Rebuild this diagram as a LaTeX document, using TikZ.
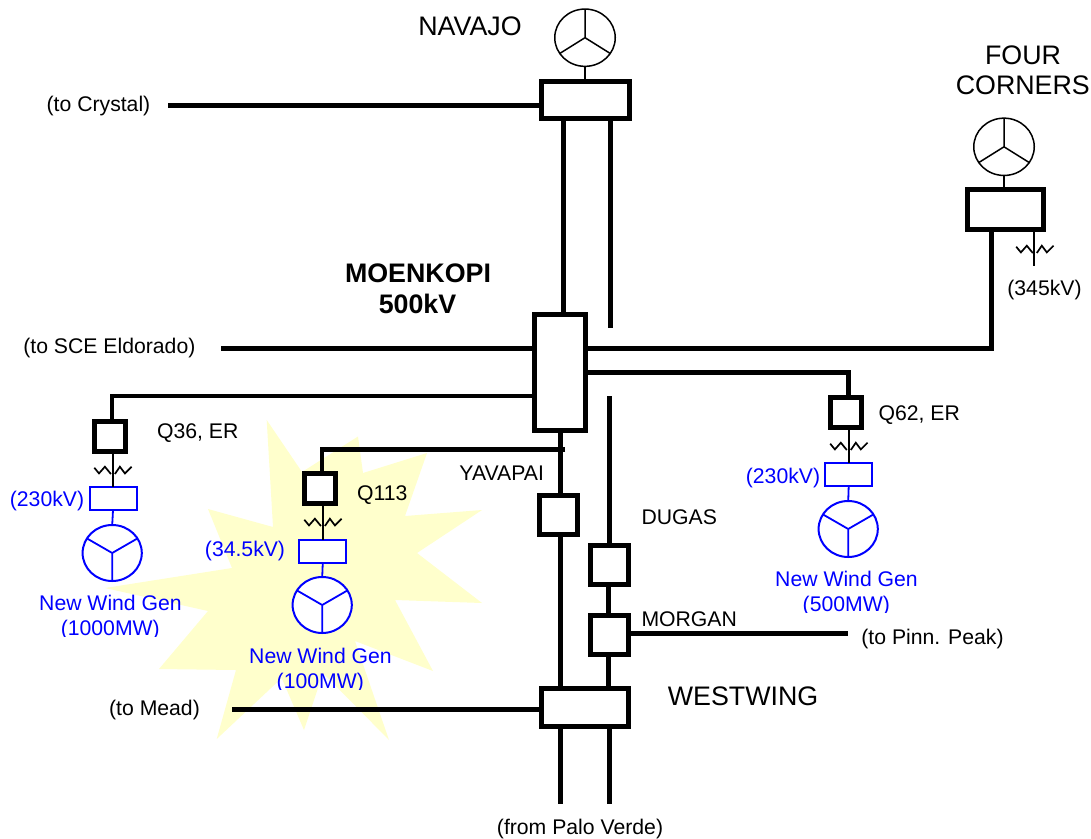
\documentclass[tikz,border=0pt]{standalone}
\usepackage{fontspec}
\setmainfont{Liberation Sans}
\usetikzlibrary{calc,shapes.geometric}
\definecolor{starfill}{HTML}{FFFFCC}
\definecolor{genblue}{HTML}{0000FF}
\newcommand{\smallfont}{\fontsize{21.2}{25}\selectfont}
\newcommand{\bigfont}{\fontsize{26.8}{30}\selectfont}
\tikzset{
  x=1pt,y=-1pt,
  every node/.style={inner sep=0pt,outer sep=0pt},
  heavy/.style={line width=5pt,black},
  medium/.style={line width=4.3pt,black},
  thin wire/.style={line width=1.6pt,black},
  blue wire/.style={line width=1.8pt,genblue},
  bus/.style={draw=black,line width=5pt,fill=white,rectangle,minimum width=#1},
  xbox/.style={bus=31pt,minimum height=30pt},
  bluebox/.style={draw=genblue,line width=2pt,fill=white,rectangle,minimum width=47pt,minimum height=23pt},
  blackgen/.style={draw=black,line width=1.5pt,fill=white,ellipse,minimum width=60.5pt,minimum height=57.3pt},
  bluegen/.style={draw=genblue,line width=2pt,fill=white,ellipse,minimum width=59.2pt,minimum height=56pt},
  lab/.style={anchor=base,font=\smallfont,text=black},
  bluelab/.style={anchor=base,font=\smallfont,text=genblue},
  biglab/.style={anchor=base,font=\bigfont,text=black},
  zz/.style={line width=1.7pt,black,line join=miter},
}
\newcommand{\spokesdown}[1]{\draw[blue wire] (#1.center) -- (#1.south) (#1.center) -- (#1.30) (#1.center) -- (#1.150);}
\newcommand{\spokesup}[1]{\draw[line width=1.5pt,black] (#1.center) -- (#1.north) (#1.center) -- (#1.212) (#1.center) -- (#1.328);}
\newcommand{\zigzag}[1]{\draw[zz] ($(#1)+(-18.3,1)$) -- ++(4.7,5.7) -- ++(5.9,-6.7) -- ++(6,7.3) ($(#1)+(2.3,7.3)$) -- ++(5,-7.3) -- ++(5,6.7) -- ++(6.7,-6.7);}
\begin{document}
\begin{tikzpicture}
\useasboundingbox (0,0) rectangle (1091,838);
\fill[white] (0,0) rectangle (1091,838);
% star burst
\fill[starfill] (266.7,420) -- (302,472) -- (358,436.5) -- (363,473) -- (427,453) -- (405,516) -- (482,510)
  -- (417,553) -- (482,603) -- (395,600) -- (433,671) -- (355,641) -- (389,740) -- (323,673) -- (304,730)
  -- (281.7,678) -- (216.7,739) -- (236,670) -- (159,669) -- (208,611) -- (105,588) -- (232,568)
  -- (208,509) -- (273,527) -- cycle;

% free ends and bends
\coordinate (crystalEnd) at (168,105.7);
\coordinate (sceEnd) at (221,348.7);
\coordinate (q36Turn) at (112.3,396);
\coordinate (q113Turn) at (322.3,449.5);
\coordinate (q113End) at (565,449.5);
\coordinate (q62Turn) at (848.5,372);
\coordinate (fcTurn) at (991,348.5);
\coordinate (navRightEnd) at (610,328);
\coordinate (dugasTop) at (609.7,396);
\coordinate (meadEnd) at (232.3,709.3);
\coordinate (pinnEnd) at (848.3,633.3);
\coordinate (paloL) at (560.3,804.3);
\coordinate (paloR) at (609.7,804.3);
\coordinate (fcTap) at (1034,266);
\coordinate (navL) at (563.5,200);
\coordinate (yavX) at (560,500);
\coordinate (morX) at (608.7,600);

% boxes
\node[bus=87.5pt,minimum height=37.5pt] (navajo) at (585.3,100) {};
\node[bus=51pt,minimum height=116pt] (moenkopi) at (560,372.5) {};
\node[bus=75.5pt,minimum height=39.5pt] (fourc) at (1005.3,209.5) {};
\node[bus=87.5pt,minimum height=38pt] (westwing) at (585,707.3) {};
\node[bus=38pt,minimum height=39.5pt] (yavapai) at (558,514.8) {};
\node[bus=38pt,minimum height=39.5pt] (dugas) at (609.6,565) {};
\node[bus=38pt,minimum height=39.5pt] (morgan) at (609.6,634.8) {};
\node[xbox] (q36) at (110.3,436.7) {};
\node[xbox] (q113) at (320.3,488.8) {};
\node[xbox] (q62) at (846.2,412.8) {};
\node[bluebox] (t36) at (113,498.9) {};
\node[bluebox] (t113) at (322.8,551) {};
\node[bluebox] (t62) at (848.7,474.8) {};
\node[blackgen] (gnav) at (585,37.7) {};
\node[blackgen] (gfc) at (1004,146.8) {};
\node[bluegen] (g36) at (112.2,553) {};
\node[bluegen] (g113) at (322.2,605) {};
\node[bluegen] (g62) at (848.2,529) {};
\spokesup{gnav}
\spokesup{gfc}
\spokesdown{g36}
\spokesdown{g113}
\spokesdown{g62}

% connectors
\draw[heavy] (crystalEnd) -- (crystalEnd -| navajo.west);
\draw[heavy] (sceEnd) -- (sceEnd -| moenkopi.west);
\draw[medium] (moenkopi.west |- q36Turn) -- (q36Turn) -- (q36Turn |- q36.north);
\draw[medium] (q113End) -- (q113Turn) -- (q113Turn |- q113.north);
\draw[heavy] (moenkopi.east |- q62Turn) -- (q62Turn) -- (q62Turn |- q62.north);
\draw[heavy] (moenkopi.east |- fcTurn) -- (fcTurn) -- (fcTurn |- fourc.south);
\draw[heavy] (navL |- navajo.south) -- (navL |- moenkopi.north);
\draw[heavy] (navRightEnd |- navajo.south) -- (navRightEnd);
\draw[heavy] (yavX |- moenkopi.south) -- (yavX |- yavapai.north);
\draw[heavy] (yavX |- yavapai.south) -- (yavX |- westwing.north);
\draw[heavy] (dugasTop) -- (dugasTop |- dugas.north);
\draw[heavy] (morX |- dugas.south) -- (morX |- morgan.north);
\draw[heavy] (morX |- morgan.south) -- (morX |- westwing.north);
\draw[heavy] (morgan.east |- pinnEnd) -- (pinnEnd);
\draw[heavy] (meadEnd) -- (meadEnd -| westwing.west);
\draw[heavy] (paloL |- westwing.south) -- (paloL);
\draw[heavy] (paloR |- westwing.south) -- (paloR);
\draw[thin wire] (gnav.south) -- (gnav.south |- navajo.north);
\draw[thin wire] (gfc.south) -- (gfc.south |- fourc.north);
\draw[thin wire] (fcTap |- fourc.south) -- (fcTap);
\draw[thin wire] (t36.north |- q36.south) -- (t36.north);
\draw[thin wire] (t113.north |- q113.south) -- (t113.north);
\draw[thin wire] (t62.north |- q62.south) -- (t62.north);
\draw[blue wire] (t36.south) -- (g36.north);
\draw[blue wire] (t113.south) -- (g113.north);
\draw[blue wire] (t62.south) -- (g62.north);

\coordinate (z36) at (112.6,466.7);
\coordinate (z113) at (322.6,518.7);
\coordinate (z62) at (848.5,442.7);
\coordinate (zfc) at (1034.5,245.7);
\zigzag{z36}
\zigzag{z113}
\zigzag{z62}
\zigzag{zfc}

% labels
\node[biglab] (lnav) at (470,35.3) {NAVAJO};
\node[biglab] (lfour) at (1023,64.3) {FOUR};
\node[biglab] (lcorn) at (1022.8,94.3) {CORNERS};
\node[biglab,font=\bigfont\bfseries] (lmoe) at (418,282) {MOENKOPI};
\node[biglab,font=\bigfont\bfseries] (lmoe2) at (417.5,313) {500kV};
\node[biglab] (lwest) at (743,705) {WESTWING};
\node[lab] (lcry) at (98.5,111) {(to Crystal)};
\node[lab] (lsce) at (109.4,353.7) {(to SCE Eldorado)};
\node[lab] (lmead) at (154.5,715) {(to Mead)};
\node[lab] (lpinn) at (932.5,644) {(to Pinn. Peak)};
\node[lab] (lpalo) at (580,834) {(from Palo Verde)};
\node[lab] (l345) at (1044.5,295) {(345kV)};
\node[lab] (lq36) at (197.8,438) {Q36, ER};
\node[lab] (lq113) at (382.3,500.7) {Q113};
\node[lab] (lq62) at (919.2,420.7) {Q62, ER};
\node[lab] (lyav) at (501.7,480.7) {YAVAPAI};
\node[lab] (ldug) at (679.2,524) {DUGAS};
\node[lab] (lmor) at (689.2,626) {MORGAN};
\node[bluelab] (v36) at (47,506.7) {(230kV)};
\node[bluelab] (v113) at (245,556.7) {(34.5kV)};
\node[bluelab] (v62) at (783,483) {(230kV)};
\node[bluelab] (n36) at (110.5,610.7) {New Wind Gen};
\node[bluelab] (n113) at (320.5,663.3) {New Wind Gen};
\node[bluelab] (n62) at (846.5,586.7) {New Wind Gen};
\begin{scope}
\clip (0,0) rectangle (1091,636);
\node[bluelab] (m36) at (110.3,635) {(1000MW)};
\end{scope}
\begin{scope}
\clip (0,0) rectangle (1091,689);
\node[bluelab] (m113) at (320.3,688) {(100MW)};
\end{scope}
\begin{scope}
\clip (0,0) rectangle (1091,612.5);
\node[bluelab] (m62) at (846.3,611.7) {(500MW)};
\end{scope}
\end{tikzpicture}
\end{document}
